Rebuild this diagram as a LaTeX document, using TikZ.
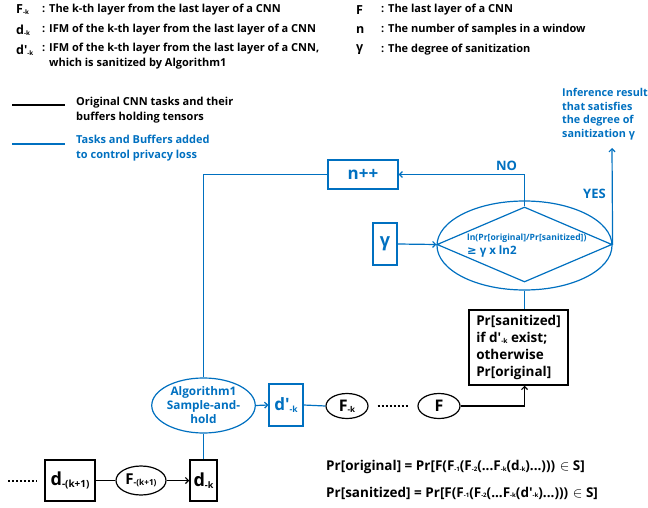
\documentclass[tikz,border=0pt]{standalone}
\usepackage{fontspec}
\setmainfont{Open Sans}
\newfontfamily\dejavu{DejaVu Sans}
\usetikzlibrary{shapes.geometric,arrows.meta,calc}
\definecolor{cb}{RGB}{0,112,192}
\newcommand{\sbs}[1]{\raisebox{-0.15ex}{\scalebox{0.5}{#1}}}
\newcommand{\tsb}[1]{\raisebox{-0.1ex}{\scalebox{0.45}{#1}}}
\newcommand{\ap}{\textquotesingle}
\begin{document}
\begin{tikzpicture}[x=1pt,y=-1pt,font=\bfseries,
  kbox/.style={draw=black,line width=1.5pt,inner sep=0pt,rectangle},
  bbox/.style={draw=cb,text=cb,line width=1.2pt,inner sep=0pt,rectangle},
  kell/.style={draw=black,ellipse,line width=1.2pt,inner sep=0pt},
  bell/.style={draw=cb,text=cb,ellipse,line width=1.2pt,inner sep=0pt},
  kline/.style={draw=black,line width=1.2pt},
  bline/.style={draw=cb,line width=1.2pt},
  arr/.style={-{Straight Barb[length=3pt,width=6pt]}},
  leg/.style={anchor=west,inner sep=0pt,font=\bfseries\fontsize{11}{15}\selectfont},
  sym/.style={anchor=west,inner sep=0pt,font=\bfseries\fontsize{12.5}{12.5}\selectfont},
  btxt/.style={text=cb,inner sep=0pt}]
\useasboundingbox (0,0) rectangle (648,508);

% ---------- legend (top) ----------
\node[sym] (s1) at (16,10) {F\sbs{-k}};
\node[leg] (t1) at (42,10) {: The k-th layer from the last layer of a CNN};
\node[sym] (s2) at (16,30) {d\sbs{-k}};
\node[leg] (t2) at (42,30) {: IFM of the k-th layer from the last layer of a CNN};
\node[sym] (s3) at (16,50) {d\ap\sbs{-k}};
\node[leg,align=left,anchor=north west] (t3) at (42,42.5) {: IFM of the k-th layer from the last layer of a CNN,\\\phantom{: }which is sanitized by Algorithm1};
\node[sym] (s4) at (356,10) {F};
\node[leg] (t4) at (381,10) {: The last layer of a CNN};
\node[sym] (s5) at (356,30) {n};
\node[leg] (t5) at (381,30) {: The number of samples in a window};
\node[sym] (s6) at (356,50) {γ};
\node[leg] (t6) at (381,50) {: The degree of sanitization};

\coordinate (lk1) at (12,105); \coordinate (lk2) at (65,105);
\draw[kline] (lk1) -- (lk2);
\node[leg,align=left] (lt1) at (76,110.5) {Original CNN tasks and their\\buffers holding tensors};
\coordinate (lb1) at (12,144); \coordinate (lb2) at (65,144);
\draw[bline] (lb1) -- (lb2);
\node[leg,align=left,text=cb] (lt2) at (76,148.5) {Tasks and Buffers added\\to control privacy loss};

% ---------- blue control part ----------
\node[bbox,minimum width=70pt,minimum height=29pt,font=\bfseries\fontsize{17}{17}\selectfont] (npp) at (363,174.5) {n++};
\node[bbox,minimum width=24pt,minimum height=42pt,font=\bfseries\fontsize{18}{18}\selectfont] (g) at (385,244) {γ};
\node[bell,minimum width=175pt,minimum height=89pt] (ell) at (524.5,245.5) {};
\node[draw=cb,diamond,line width=1.2pt,minimum width=175pt,minimum height=75pt,inner sep=0pt] (dia) at (524.5,244.5) {};
\node[btxt,align=left,anchor=west] (cond) at (467,246)
  {{\bfseries\fontsize{8.6}{9}\selectfont ln(Pr[original]/Pr[sanitized])}\\[2pt]{\bfseries\fontsize{11.5}{12}\selectfont {\dejavu\bfseries ≥} γ x ln2}};
\node[btxt,align=left,anchor=north west,font=\bfseries\fontsize{10.8}{13.7}\selectfont] (inf) at (562,88) {Inference result\\that satisfies\\the degree of\\sanitization γ};
\coordinate (infp) at (612,148);
\node[btxt,font=\bfseries\fontsize{13}{13}\selectfont] (yes) at (594.5,194) {YES};
\node[btxt,font=\bfseries\fontsize{13}{13}\selectfont] (no) at (506.5,166) {NO};

\node[kbox,minimum width=99pt,minimum height=75pt,align=left,font=\bfseries\fontsize{13.5}{16.8}\selectfont] (pr) at (518.5,347.5)
  {Pr[sanitized]\\if d\ap\sbs{-k} exist;\\otherwise\\Pr[original]};

% ---------- middle row ----------
\node[bell,minimum width=89pt,minimum height=55pt,align=center,font=\bfseries\fontsize{11.8}{14}\selectfont] (alg) at (203.5,405.5) {Algorithm1\\Sample-and-\\hold};
\node[bbox,minimum width=34pt,minimum height=42pt,font=\bfseries\fontsize{17}{17}\selectfont] (dpk) at (286,405) {d\ap\sbs{-k}};
\node[kell,minimum width=42pt,minimum height=25pt,font=\bfseries\fontsize{16}{16}\selectfont] (fk) at (347,406) {F\sbs{-k}};
\node[kell,minimum width=42pt,minimum height=25pt,font=\bfseries\fontsize{16}{16}\selectfont] (f) at (439,406) {F};

% ---------- bottom row ----------
\coordinate (bd1) at (8,481); \coordinate (bd2) at (37,481);
\node[kbox,minimum width=50pt,minimum height=41pt,font=\bfseries\fontsize{18}{18}\selectfont] (d1) at (70,480.5) {d{\raisebox{-0.15ex}{\scalebox{0.55}{-(k+1)}}}};
\node[kell,minimum width=50pt,minimum height=29pt,font=\bfseries\fontsize{15}{15}\selectfont] (f1) at (141,480.5) {F{\raisebox{-0.15ex}{\scalebox{0.55}{-(k+1)}}}};
\node[kbox,minimum width=27pt,minimum height=41pt,font=\bfseries\fontsize{18}{18}\selectfont] (dk) at (203.5,480.5) {d\sbs{-k}};

% ---------- equations ----------
\node[anchor=west,inner sep=0pt,font=\bfseries\fontsize{13.5}{13.5}\selectfont] (eq1) at (326,467)
  {Pr[original] = Pr[F(F\tsb{-1}(F\tsb{-2}(...F\tsb{-k}(d\tsb{-k})...))) $\in$ S]};
\node[anchor=west,inner sep=0pt,font=\bfseries\fontsize{13.5}{13.5}\selectfont] (eq2) at (326,493)
  {Pr[sanitized] = Pr[F(F\tsb{-1}(F\tsb{-2}(...F\tsb{-k}(d\ap\tsb{-k})...))) $\in$ S]};

% ---------- connectors ----------
\draw[bline,arr] (dia.north) |- (npp.east);
\draw[bline] (npp.west) -| (alg.north);
\draw[bline,arr] (g.east) -- (dia.west);
\draw[bline,arr] (dia.east) -- (infp);
\draw[bline] (ell.south) -- (ell.south |- pr.north);
\draw[bline,arr] (alg.east) -- (dpk.west);
\draw[bline] (dpk.east) -- (fk.west);
\draw[kline,dash pattern=on 2pt off 2pt] ($(fk.east)+(9,0)$) -- ($(f.west)+(-8,0)$);
\draw[kline,arr] (f.east) -| (ell.south |- pr.south);
\draw[bline] (alg.south) -- (dk.north);
\draw[kline,dash pattern=on 2pt off 2pt] (bd1) -- (bd2);
\draw[kline] (d1.east) -- (f1.west);
\draw[kline,arr] (f1.east) -- (dk.west);
\end{tikzpicture}
\end{document}
